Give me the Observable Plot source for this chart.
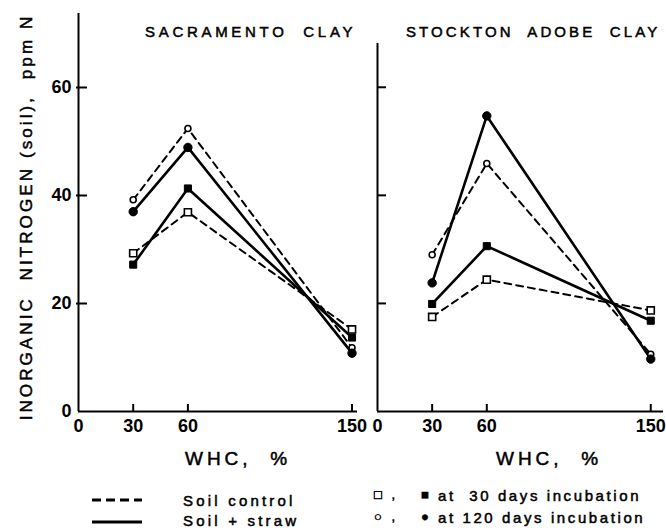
<!DOCTYPE html>
<html><head><meta charset="utf-8">
<script src="https://cdn.jsdelivr.net/npm/d3@7"></script>
<script src="https://cdn.jsdelivr.net/npm/@observablehq/plot@0.6"></script>
<style>
body{margin:0;background:#fff;}
#c{position:relative;width:666px;height:528px;overflow:hidden;background:#fff;font-family:"Liberation Sans",Arial,sans-serif;color:#000;}
.abs{position:absolute;white-space:pre;line-height:1;-webkit-text-stroke:0.5px #000;}
#c svg{position:absolute;top:0;}
</style></head><body><div id="c"></div>
<script>
// ---- data ----
const whc = [30, 60, 150];                 // WHC, %
const xTicks = [0, 30, 60, 150];
const yTicks = [0, 20, 40, 60];
const yMarks = [20, 40, 60];
const panelTitles = ["SACRAMENTO  CLAY", "STOCKTON  ADOBE  CLAY"];
// Sacramento clay (ppm N)
const sacControl30  = [29.3, 36.9, 15.2];
const sacControl120 = [39.2, 52.4, 11.8];
const sacStraw30    = [27.2, 41.3, 13.7];
const sacStraw120   = [37.0, 48.9, 10.8];
// Stockton adobe clay (ppm N)
const stoControl30  = [17.5, 24.4, 18.7];
const stoControl120 = [29.0, 45.9, 10.6];
const stoStraw30    = [19.9, 30.6, 16.8];
const stoStraw120   = [23.8, 54.7, 9.7];

const legendTreatments = ["Soil control", "Soil + straw"];
const legendDays = ["□ ,", "■", "at  30 days incubation", "○ ,", "●", "at 120 days incubation"];

function rows(values, treatment, days) {
  return whc.map((x, i) => ({x, y: values[i], treatment, days}));
}

const FONT = '"Liberation Sans", Arial, sans-serif';

function panel(series, {width, left, marginLeft, marginRight, marginTop, xMax, yMax, yLabels, yTickDx}) {
  const height = 440, marginBottom = 29;
  const marks = [
    Plot.ruleX([0], {strokeWidth: 2}),
    Plot.ruleY([0], {strokeWidth: 2}),
    Plot.axisY({ticks: yMarks, text: null, label: null, tickSize: yTickDx[0], dx: yTickDx[1], strokeWidth: 2}),
    Plot.axisX({ticks: whc, text: null, label: null, tickSize: 7, dy: -7, strokeWidth: 2}),
    Plot.axisX({ticks: xTicks, label: null, tickSize: 0, tickPadding: 8, fontSize: 18, fontWeight: "bold", tickFormat: d3.format("d")})
  ];
  if (yLabels) marks.push(Plot.axisY({ticks: yTicks, label: null, tickSize: 0, tickPadding: 7, fontSize: 18, fontWeight: "bold", tickFormat: d3.format("d")}));
  for (const s of series) {
    const data = rows(s.values, s.treatment, s.days);
    marks.push(Plot.line(data, {x: "x", y: "y", stroke: "#000",
      strokeWidth: s.treatment === "control" ? 2 : 2.6,
      strokeDasharray: s.treatment === "control" ? "7,5" : null}));
  }
  for (const s of series) {
    const data = rows(s.values, s.treatment, s.days);
    const open = s.treatment === "control";
    const sq = s.days === 30;
    marks.push(Plot.dot(data, {x: "x", y: "y", symbol: sq ? "square" : "circle",
      r: sq ? 4 : (open ? 3 : 4.2),
      fill: open ? "#fff" : "#000", stroke: "#000", strokeWidth: open ? 1.6 : 1}));
  }
  const svg = Plot.plot({
    width, height, marginLeft, marginRight, marginTop, marginBottom,
    x: {domain: [0, xMax], label: null},
    y: {domain: [0, yMax], label: null},
    style: {fontFamily: FONT, background: "transparent", color: "#000"},
    marks
  });
  svg.style.left = left + "px";
  return svg;
}

const c = document.getElementById("c");

c.appendChild(panel([
  {values: sacControl30, treatment: "control", days: 30},
  {values: sacControl120, treatment: "control", days: 120},
  {values: sacStraw30, treatment: "straw", days: 30},
  {values: sacStraw120, treatment: "straw", days: 120}
], {width: 370, left: 0, marginLeft: 78, marginRight: 13, marginTop: 13, xMax: 153, yMax: 73.7, yLabels: true, yTickDx: [11, 9]}));

c.appendChild(panel([
  {values: stoControl30, treatment: "control", days: 30},
  {values: stoControl120, treatment: "control", days: 120},
  {values: stoStraw30, treatment: "straw", days: 30},
  {values: stoStraw120, treatment: "straw", days: 120}
], {width: 306, left: 360, marginLeft: 17, marginRight: 3, marginTop: 43, xMax: 157, yMax: 68.1, yLabels: false, yTickDx: [9, 9]}));

function txt(s, css) {
  const d = document.createElement("div");
  d.className = "abs";
  d.textContent = s;
  Object.assign(d.style, css);
  c.appendChild(d);
  return d;
}

// titles
txt(panelTitles[0], {left: "145px", top: "24px", fontSize: "15px", letterSpacing: "3.7px"});
txt(panelTitles[1], {left: "406px", top: "24px", fontSize: "15px", letterSpacing: "3.1px"});
// y label
txt("INORGANIC  NITROGEN (soil),  ppm N", {left: "26px", top: "217px", fontSize: "17px", letterSpacing: "3.1px",
  transform: "translate(-50%,-50%) rotate(-90deg)"});
// x labels
txt("WHC,  %", {left: "238px", top: "449px", fontSize: "19px", letterSpacing: "4px", transform: "translateX(-50%)"});
txt("WHC,  %", {left: "549px", top: "449px", fontSize: "19px", letterSpacing: "4px", transform: "translateX(-50%)"});

// legend: line styles
const ns = "http://www.w3.org/2000/svg";
function legendLine(y, dash) {
  const s = document.createElementNS(ns, "svg");
  s.setAttribute("width", 60); s.setAttribute("height", 10);
  s.style.position = "absolute"; s.style.left = "88px"; s.style.top = (y - 5) + "px";
  const l = document.createElementNS(ns, "line");
  l.setAttribute("x1", 4); l.setAttribute("x2", 54); l.setAttribute("y1", 5); l.setAttribute("y2", 5);
  l.setAttribute("stroke", "#000"); l.setAttribute("stroke-width", 3);
  if (dash) l.setAttribute("stroke-dasharray", "9,5");
  s.appendChild(l);
  c.appendChild(s);
}
legendLine(500, true);
legendLine(522, false);
txt(legendTreatments[0], {left: "183px", top: "493px", fontSize: "15px", letterSpacing: "3.2px"});
txt(legendTreatments[1], {left: "183px", top: "513px", fontSize: "15px", letterSpacing: "3.2px"});

txt(legendDays[0], {left: "374px", top: "488px", fontSize: "13px", letterSpacing: "3px"});
txt(legendDays[1], {left: "421px", top: "488px", fontSize: "13px"});
txt(legendDays[2], {left: "438px", top: "488px", fontSize: "15px", letterSpacing: "2.6px"});
txt(legendDays[3], {left: "374px", top: "510px", fontSize: "13px", letterSpacing: "3px"});
txt(legendDays[4], {left: "421px", top: "510px", fontSize: "13px"});
txt(legendDays[5], {left: "438px", top: "510px", fontSize: "15px", letterSpacing: "2.6px"});
</script></body></html>
